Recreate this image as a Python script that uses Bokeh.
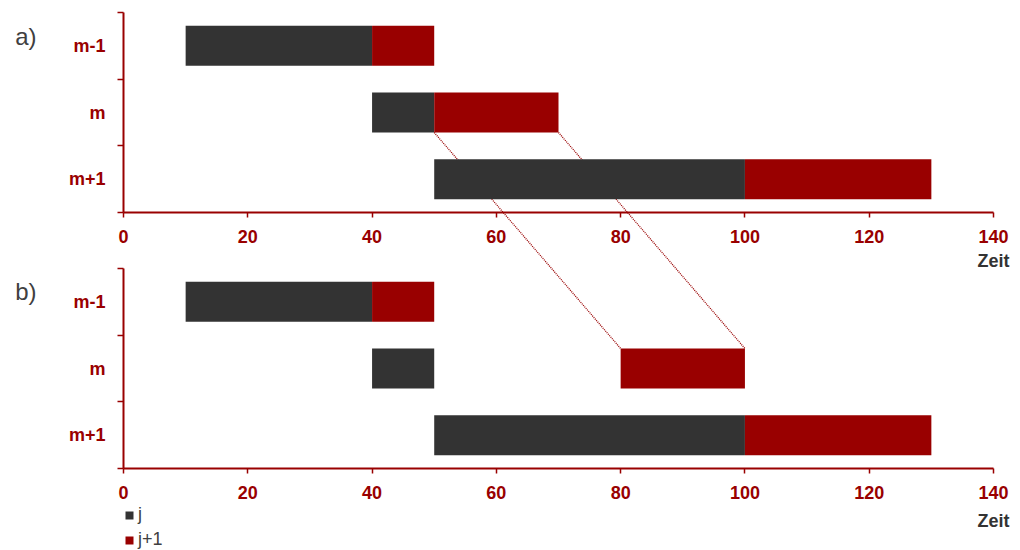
from bokeh.plotting import figure
from bokeh.models import Range1d, FixedTicker, Legend, LegendItem, LinearAxis
from bokeh.embed import file_html
from bokeh.resources import INLINE

# ---------------- data ----------------
row_names = ["m+1", "m", "m-1"]
row_pos = [0.5, 1.5, 2.5]
row_bounds = [0, 1, 2, 3]
x_ticks = [0, 20, 40, 60, 80, 100, 120, 140]
panel_names = ["a)", "b)"]
x_title = "Zeit"
legend_labels = ["j", "j+1"]

# panel a)
a_j_start = [50, 40, 10]
a_j_end = [100, 50, 40]
a_j1_start = [100, 50, 40]
a_j1_end = [130, 70, 50]

# panel b)
b_j_start = [50, 40, 10]
b_j_end = [100, 50, 40]
b_j1_start = [100, 80, 40]
b_j1_end = [130, 100, 50]

# ---------------- layout / style ----------------
GRAY = "#333333"
RED = "#990000"
TXT = "#404040"
FONT = "Liberation Sans"
BAR_H = 0.6

W, H = 1016, 550
X0_PX, X140_PX = 123, 993          # pixel position of x = 0 and x = 140
PXX = (X140_PX - X0_PX) / 140.0
X_LO = -X0_PX / PXX
X_HI = (W - X0_PX) / PXX

B_BASE_PX = 468            # baseline of panel b)
A_BASE_PX = 212            # baseline of panel a)
PX = 200 / 3.0             # pixels per row
Y_HI = B_BASE_PX / PX
Y_LO = -(H - B_BASE_PX) / PX
A_BASE = (B_BASE_PX - A_BASE_PX) / PX   # y value of panel a) baseline

a_rows = [r + A_BASE for r in row_pos]
a_bounds = [b + A_BASE for b in row_bounds]

p = figure(width=W, height=H, output_backend="svg", toolbar_location=None,
           x_range=Range1d(X_LO, X_HI), y_range=Range1d(Y_LO, Y_HI),
           min_border=0)
p.xgrid.visible = False
p.ygrid.visible = False
p.outline_line_color = None
p.background_fill_color = "white"
p.border_fill_color = "white"


def style_x(ax):
    ax.ticker = FixedTicker(ticks=x_ticks)
    ax.bounds = (x_ticks[0], x_ticks[-1])
    ax.axis_line_color = RED
    ax.axis_line_width = 2
    ax.major_tick_line_color = RED
    ax.major_tick_line_width = 1.5
    ax.major_tick_out = 5
    ax.major_tick_in = 0
    ax.minor_tick_line_color = None
    ax.major_label_text_font = FONT
    ax.major_label_text_font_size = "18px"
    ax.major_label_text_font_style = "bold"
    ax.major_label_text_color = RED
    ax.major_label_standoff = 12


def style_y(ax, rows, bounds):
    ax.ticker = FixedTicker(ticks=rows, minor_ticks=bounds)
    ax.major_label_overrides = {r: n for r, n in zip(rows, row_names)}
    ax.bounds = (bounds[0], bounds[-1])
    ax.axis_line_color = RED
    ax.axis_line_width = 2
    ax.major_tick_out = 0
    ax.major_tick_in = 0
    ax.major_tick_line_color = None
    ax.minor_tick_out = 6
    ax.minor_tick_in = 0
    ax.minor_tick_line_color = RED
    ax.minor_tick_line_width = 1.5
    ax.major_label_text_font = FONT
    ax.major_label_text_font_size = "18px"
    ax.major_label_text_font_style = "bold"
    ax.major_label_text_color = RED
    ax.major_label_standoff = 12


def plain(ax, size, color, bold, standoff):
    ax.axis_line_color = None
    ax.major_tick_line_color = None
    ax.minor_tick_line_color = None
    ax.major_tick_out = 0
    ax.major_tick_in = 0
    ax.major_label_text_font = FONT
    ax.major_label_text_font_size = size
    ax.major_label_text_font_style = "bold" if bold else "normal"
    ax.major_label_text_color = color
    ax.major_label_standoff = standoff


# axes of panel b) (the figure's own axes, pinned to the b) origin)
style_x(p.xaxis[0])
p.xaxis[0].fixed_location = 0
style_y(p.yaxis[0], row_pos, row_bounds)
p.yaxis[0].fixed_location = 0

# axes of panel a)
ax_a = LinearAxis(fixed_location=A_BASE)
style_x(ax_a)
p.add_layout(ax_a, "below")
ay_a = LinearAxis(fixed_location=0)
style_y(ay_a, a_rows, a_bounds)
p.add_layout(ay_a, "left")

# "Zeit" titles under both x axes
for base, standoff in [(A_BASE, 38), (0, 42)]:
    t = LinearAxis(fixed_location=base, ticker=FixedTicker(ticks=[x_ticks[-1]]),
                   major_label_overrides={x_ticks[-1]: x_title})
    plain(t, "18px", GRAY, True, standoff)
    p.add_layout(t, "below")

# "a)" / "b)" panel names
name_pos = [A_BASE + 2.64, 2.655]
ax_n = LinearAxis(fixed_location=0, ticker=FixedTicker(ticks=name_pos),
                  major_label_overrides={v: n for v, n in zip(name_pos, panel_names)})
plain(ax_n, "24px", TXT, False, X0_PX - 36)
p.add_layout(ax_n, "left")

# connectors: j+1 of row "m" in a) -> j+1 of row "m" in b)
mi = row_names.index("m")
p.segment(x0=[a_j1_start[mi], a_j1_end[mi]],
          y0=[a_rows[mi] - BAR_H / 2] * 2,
          x1=[b_j1_start[mi], b_j1_end[mi]],
          y1=[row_pos[mi] + BAR_H / 2] * 2,
          line_color=RED, line_width=1.3, line_dash="1 1")

# bars
p.hbar(y=a_rows, left=a_j_start, right=a_j_end, height=BAR_H, fill_color=GRAY, line_color=None)
p.hbar(y=a_rows, left=a_j1_start, right=a_j1_end, height=BAR_H, fill_color=RED, line_color=None)
rj = p.hbar(y=row_pos, left=b_j_start, right=b_j_end, height=BAR_H, fill_color=GRAY, line_color=None)
rj1 = p.hbar(y=row_pos, left=b_j1_start, right=b_j1_end, height=BAR_H, fill_color=RED, line_color=None)

legend = Legend(items=[LegendItem(label=legend_labels[0], renderers=[rj]),
                       LegendItem(label=legend_labels[1], renderers=[rj1])],
                location=(X0_PX + 1, 0), orientation="vertical",
                border_line_color=None, background_fill_alpha=0,
                glyph_width=10, glyph_height=10, label_standoff=4,
                padding=2, margin=0, spacing=4, label_height=20,
                label_text_font=FONT, label_text_font_size="18px",
                label_text_color=TXT)
p.add_layout(legend)

open("out.html", "w").write(file_html(p, INLINE))
